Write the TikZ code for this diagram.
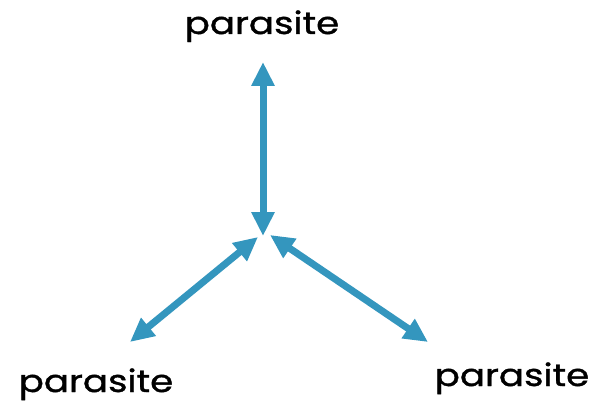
\documentclass[tikz,border=0pt]{standalone}
\usepackage{fontspec}
\setmainfont{Poppins}[FakeStretch=1.2, FakeBold=1.2]
\usetikzlibrary{arrows.meta}
\definecolor{arrowblue}{RGB}{52,150,190}
\tikzset{
  lbl/.style={anchor=base, inner sep=0pt, font=\fontsize{31}{34}\selectfont},
  link/.style={draw=arrowblue, line width=7pt, {Triangle[width=22pt,length=24pt]}-{Triangle[width=22pt,length=24pt]}}
}
\begin{document}
\begin{tikzpicture}[x=1pt,y=-1pt]
\useasboundingbox (0,0) rectangle (598,404);
\node[lbl] (ptop) at (262,34) {parasite};
\node[lbl] (pleft) at (96,392) {parasite};
\node[lbl] (pright) at (512,386) {parasite};
\coordinate (ttop) at (263,62);
\coordinate (tmid) at (263,236);
\coordinate (lmid) at (258,237);
\coordinate (lend) at (130,342);
\coordinate (rmid) at (270,235);
\coordinate (rend) at (428,342);
\draw[link] (ttop) -- (tmid);
\draw[link] (lmid) -- (lend);
\draw[link] (rmid) -- (rend);
\end{tikzpicture}
\end{document}
